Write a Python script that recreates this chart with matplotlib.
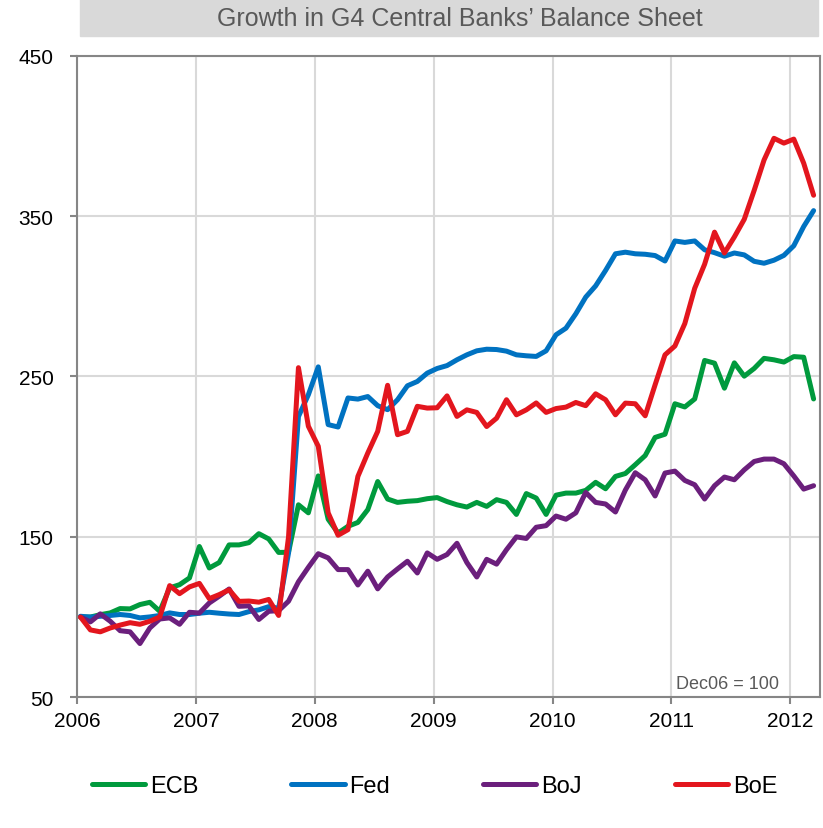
import numpy as np
import matplotlib
matplotlib.use('Agg')
import matplotlib.pyplot as plt
from matplotlib.patches import Rectangle

plt.rcParams['font.family'] = ['Liberation Sans', 'DejaVu Sans']

# monthly index levels, Jan 2006 .. Mar 2012
ecb = [100, 100, 101.5, 102.6, 105.3, 105.1, 107.8, 109.2, 103.6, 118.2, 120.2, 124.4,
       144, 130.6, 134, 145, 145, 146.4, 152, 148.7, 140.3, 140.4, 170, 165,
       188, 161, 152.4, 156.6, 159, 167, 184.5, 173.6, 171.5, 172.2, 172.6, 173.8,
       174.5, 172, 170, 168.6, 171.5, 169, 173.2, 171.5, 164, 177, 174.2, 164,
       176, 177.3, 177.3, 179, 184, 180, 187.7, 189.5, 195, 200.7, 212, 214,
       233, 231, 236, 260, 258.3, 242.7, 258.5, 250.2, 255, 261.3, 260.4, 259,
       262.4, 262, 236]
fed = [100.5, 100, 100.5, 101, 101.6, 101, 99.5, 100.1, 101, 102.6, 101.6, 101.6,
       102.4, 103, 102.4, 101.9, 101.6, 103.4, 104.5, 106.5, 105.5, 140, 225, 238.6,
       256, 220, 218.5, 236.6, 235.9, 237.5, 231.8, 229.3, 235.5, 244.2, 246.9, 252.1,
       255, 256.8, 260.4, 263.5, 266, 267, 266.8, 265.8, 263.5, 262.9, 262.5, 266,
       276, 280.1, 289.1, 299.5, 306.5, 316.1, 326.5, 327.5, 326.5, 326.2, 325.4, 322,
       334.5, 333.6, 334.5, 329, 327.2, 325, 327, 325.8, 321.8, 320.6, 322.5, 325.5,
       331.5, 343.5, 353.4]
boj = [100, 97, 102, 97.4, 91.5, 90.8, 83.5, 93.2, 98.8, 99.5, 95.5, 103,
       102.5, 108.8, 113, 117.5, 106.7, 107, 98.5, 103.6, 104, 109.9, 122, 131,
       139.5, 136.9, 129.6, 129.6, 120, 128.6, 117.6, 125, 130, 134.8, 127.5, 140,
       136, 139, 146, 134, 125, 136, 133, 142, 150, 149, 156, 157,
       163, 161, 165, 177.7, 171.5, 170.5, 165.5, 179.2, 190, 185.6, 175.5, 189.8,
       191, 185.2, 182.5, 173.6, 181.9, 187.3, 185.6, 191.8, 197, 198.5, 198.5, 195.6,
       188, 179.8, 181.9]
boe = [100, 92, 90.8, 93.2, 95, 96.5, 95.5, 97.4, 100.1, 119.6, 114.6, 118.8,
       121, 111.5, 114, 117, 109.8, 110, 109.3, 111, 101, 150, 255.5, 219,
       206.5, 165, 151, 154.5, 187.7, 202.3, 215.8, 244.5, 213.7, 215.8, 231.4, 230.3,
       230.5, 237.9, 225.1, 229.2, 227.6, 218.8, 224, 235.5, 226.1, 229.2, 233.5, 227.6,
       230, 230.9, 233.8, 231.8, 239.2, 235.5, 226.1, 233.4, 233, 225.5, 244.8, 263.5,
       269, 283, 305, 320, 340, 327, 337, 348, 366, 385, 398.5, 395.5,
       398, 383, 363]

labels = ['ECB', 'Fed', 'BoJ', 'BoE']
colors = ['#009a3d', '#0072c1', '#6b1f7c', '#e3161e']

x = 2006 + (np.arange(len(ecb)) + 0.35) / 12

fig = plt.figure(figsize=(8.23, 8.29), dpi=100)
ax = fig.add_axes([0.0936, 0.1577, 0.9028, 0.7739])

for series, lab, col in zip([ecb, fed, boj, boe], labels, colors):
    ax.plot(x, series, color=col, lw=3.6, label=lab, solid_capstyle='round', solid_joinstyle='round')

ax.set_xlim(2006, 2012.25)
ax.set_ylim(50, 450)
ax.set_xticks(range(2006, 2013))
ax.set_yticks([50, 150, 250, 350, 450])
ax.grid(color='#d9d9d9', lw=1.5)
ax.set_axisbelow(True)
for s in ax.spines.values():
    s.set_color('#868686')
    s.set_linewidth(1.5)
ax.tick_params(colors='#868686', length=5, width=1.5, labelcolor='black', labelsize=15)
ax.tick_params(axis='y', pad=12)
ax.tick_params(axis='x', pad=5)

ax.text(0.876, 0.008, 'Dec06 = 100', transform=ax.transAxes, ha='center', va='bottom',
        fontsize=13, color='#595959')

# title band
fig.patches.append(Rectangle((80 / 823, 1 - 37 / 829), 738 / 823, 37 / 829,
                             transform=fig.transFigure, color='#d9d9d9', zorder=0))
fig.text(460 / 823, 1 - 19 / 829, 'Growth in G4 Central Banks\u2019 Balance Sheet',
         ha='center', va='center', fontsize=18, color='#595959')

fig.legend(loc='center', bbox_to_anchor=(0.528, 1 - 787 / 829), ncol=4, frameon=False,
           fontsize=17, handlelength=2.25, handletextpad=0.2, columnspacing=3.95)

plt.savefig('out.png', dpi=100)
